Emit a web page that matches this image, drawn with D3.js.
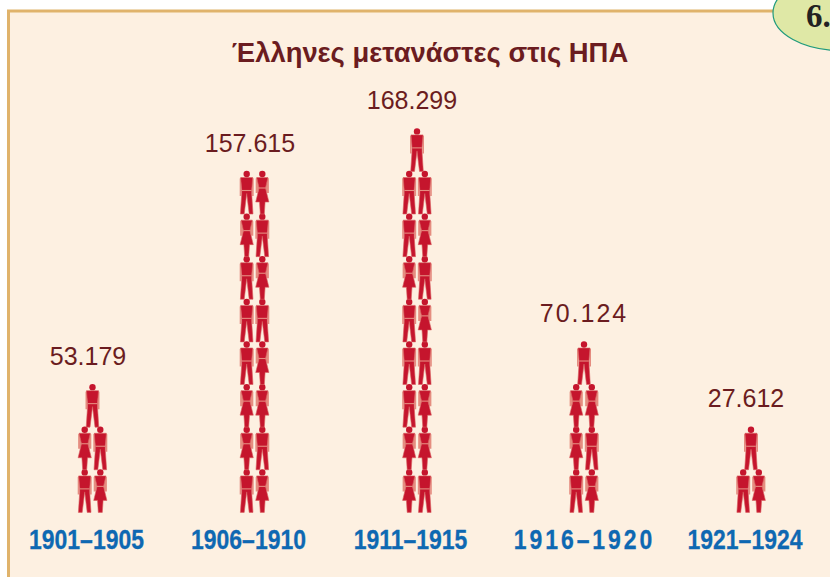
<!DOCTYPE html>
<html>
<head>
<meta charset="utf-8">
<script src="https://cdnjs.cloudflare.com/ajax/libs/d3/7.8.5/d3.min.js"></script>
<style>
  html, body { margin: 0; padding: 0; background: #fff; }
  svg { display: block; }
</style>
</head>
<body>
<svg class="chart" width="830" height="577"></svg>
<script>
let title = 'Έλληνες μετανάστες στις ΗΠΑ'
let periods = ['1901–1905', '1906–1910', '1911–1915', '1916–1920', '1921–1924']
let values = [53179, 157615, 168299, 70124, 27612]
let valueLabels = ['53.179', '157.615', '168.299', '70.124', '27.612']

// one string per row from the bottom up, M = man, W = woman
let figures1901 = ['MW', 'WM', 'M']
let figures1906 = ['MW', 'WM', 'WW', 'MW', 'MM', 'MW', 'WM', 'MW']
let figures1911 = ['WM', 'WW', 'MW', 'MM', 'MW', 'WM', 'MW', 'MM', 'M']
let figures1916 = ['MW', 'WM', 'WW', 'M']
let figures1921 = ['MW', 'M']
let figureRows = [figures1901, figures1906, figures1911, figures1916, figures1921]

let columns = periods.map((p, i) => ({
  period: p,
  value: values[i],
  label: valueLabels[i],
  rows: figureRows[i]
}))

let svg = d3.select('.chart')

// panel
svg.append('rect').attr('x', 8.5).attr('y', 11).attr('width', 840).attr('height', 600)
    .attr('fill', '#fdf0e1').attr('stroke', '#e0b36b').attr('stroke-width', 3)

// chapter badge
svg.append('ellipse').attr('cx', 841).attr('cy', 13).attr('rx', 68).attr('ry', 37.5)
    .attr('fill', '#dfe8a6').attr('stroke', '#1f9a7c').attr('stroke-width', 1.2)
svg.append('text').attr('x', 806).attr('y', 27)
    .attr('font-family', '"Liberation Serif"').attr('font-weight', 'bold').attr('font-size', 33)
    .attr('fill', '#222').text('6.')

svg.append('text').attr('x', 430).attr('y', 62)
    .attr('text-anchor', 'middle')
    .attr('font-family', '"Liberation Sans"').attr('font-weight', 'bold').attr('font-size', 27.4)
    .attr('fill', '#6b1c20').text(title)

// the columns are not evenly spaced in the picture, so ordinal scales
let xColumn = d3.scaleOrdinal().domain(periods).range([92.5, 254.5, 417, 584, 751])
let xValue = d3.scaleOrdinal().domain(periods).range([88, 250, 412, 584, 746])
let xLabel = d3.scaleOrdinal().domain(periods).range([86, 248, 410, 584, 744.5])
let xPair = d3.scalePoint().domain([0, 1]).range([-7.8, 7.8])
let yRow = d3.scaleLinear().domain([0, 8]).range([512, 171])

let line = d3.line()
let manBody = [[-6, 6.5], [6, 6.5], [5, 19], [5, 23], [6.3, 43], [2.5, 43], [0, 22.5], [-2.5, 43], [-6.3, 43], [-5, 23], [-5, 19]]
let womanBody = [[-5.6, 6.5], [5.6, 6.5], [3.2, 17], [6.6, 31], [2.8, 31], [2, 43], [-2, 43], [-2.8, 31], [-6.6, 31], [-3.2, 17]]
let manArm = [[5.4, 6.5], [7, 7.5], [7, 25], [5.4, 25]]
let womanArm = [[5, 6.5], [6.6, 7.5], [6.6, 22], [4.6, 22], [3, 17]]

function drawFigure(g, kind) {
  let man = kind === 'M'
  let arm = man ? manArm : womanArm
  // pale arms behind the body, both sides
  g.append('path').attr('d', line(arm) + 'Z').attr('fill', '#e58d80')
  g.append('path').attr('d', line(arm.map(p => [-p[0], p[1]])) + 'Z').attr('fill', '#e58d80')
  g.append('path')
      .attr('d', line(man ? manBody : womanBody) + 'Z')
      .attr('fill', '#c5152d').attr('stroke', '#d9605f').attr('stroke-width', 0.6)
  g.append('circle').attr('cx', 0).attr('cy', 3).attr('r', 3.2).attr('fill', '#c5152d')
  // belt
  let beltY = man ? 19.5 : 17
  let beltX = man ? 4.8 : 3.4
  g.append('path')
      .attr('d', `M${-beltX},${beltY}L${beltX},${beltY}`)
      .attr('fill', 'none').attr('stroke', '#e58d80').attr('stroke-width', 1.1)
}

let column = svg.selectAll('.column')
    .data(columns)
    .enter()
    .append('g')
    .attr('class', 'column')

column.each(function (d) {
  let col = d3.select(this)
  d.rows.forEach((row, r) => {
    row.split('').forEach((kind, k) => {
      let offset = row.length === 1 ? 0 : xPair(k)
      let g = col.append('g')
          .attr('transform', `translate(${xColumn(d.period) + offset},${yRow(r + 1)})`)
      drawFigure(g, kind)
    })
  })
})

// value above each column
column.append('text')
    .attr('x', d => xValue(d.period))
    .attr('y', d => yRow(d.rows.length) - 19.5)
    .attr('text-anchor', 'middle')
    .attr('font-family', '"Liberation Sans"').attr('font-size', 25)
    .attr('letter-spacing', d => d.period === '1916–1920' ? 2 : 0)
    .attr('fill', '#6b1c20')
    .text(d => d.label)

// period labels, no narrow face installed so squeeze the bold one
let axis = svg.append('g')
    .attr('transform', 'translate(0,549)')
    .call(d3.axisBottom(xLabel).tickSize(0).tickPadding(0))
axis.select('.domain').remove()
axis.selectAll('text')
    .attr('y', 0).attr('dy', 0)
    .attr('transform', 'scale(0.85,1)')
    .attr('font-family', '"Liberation Sans"').attr('font-weight', 'bold').attr('font-size', 27)
    .attr('letter-spacing', d => d === '1916–1920' ? 3.5 : 0)
    .attr('fill', '#0e68b2').attr('stroke', '#0e68b2').attr('stroke-width', 0.3)
</script>
</body>
</html>
